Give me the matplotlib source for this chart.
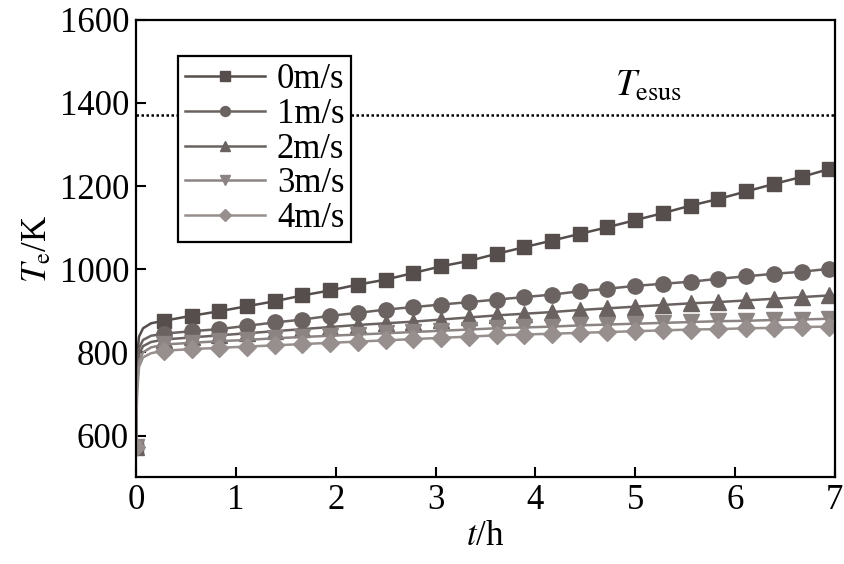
import numpy as np
import matplotlib
matplotlib.use("Agg")
import matplotlib.pyplot as plt

plt.rcParams['font.family'] = ['Liberation Serif', 'DejaVu Serif']
plt.rcParams['mathtext.fontset'] = 'stix'

# early (dense) part of the curves, hours
t_early = [0.0, 0.01, 0.03, 0.07, 0.15]
# marker points every 1000 s, k = 1..25, plus the end at 7 h
k = np.arange(1, 26)
t_marks = list(k * 1000 / 3600)

labels = ['0m/s', '1m/s', '2m/s', '3m/s', '4m/s']

early_0 = [572, 790, 838, 858, 870]
early_1 = [572, 760, 810, 830, 840]
early_2 = [572, 740, 795, 815, 825]
early_3 = [572, 720, 780, 800, 812]
early_4 = [572, 700, 765, 788, 798]

marks_0 = [876, 888, 899, 911, 923, 937, 949, 963, 975, 991, 1007, 1020, 1037,
           1053, 1069, 1085, 1101, 1118, 1135, 1153, 1169, 1187, 1205, 1222, 1241]
marks_1 = [845, 851, 856, 864, 872, 879, 888, 895, 903, 909, 915, 921, 927,
           933, 939, 947, 953, 960, 965, 970, 977, 983, 989, 994, 1001]
marks_2 = [831, 836, 841, 846, 851, 856, 861, 866, 870, 874, 879, 884, 889,
           893, 897, 902, 906, 910, 914, 918, 921, 925, 929, 933, 937]
marks_3 = [819, 823, 827, 830, 834, 837, 840, 843, 846, 849, 852, 855, 858,
           860, 862, 865, 867, 869, 871, 873, 875, 876, 878, 879, 881]
marks_4 = [804, 808, 811, 814, 817, 820, 823, 826, 829, 832, 835, 838, 841,
           843, 845, 847, 849, 851, 853, 855, 856, 858, 859, 861, 862]
end_vals = [1245, 1003, 938, 882, 863]

T_esus = 1370

series = [(early_0, marks_0), (early_1, marks_1), (early_2, marks_2),
          (early_3, marks_3), (early_4, marks_4)]
markers = ['s', 'o', '^', 'v', 'D']
colors = ['#554e4c', '#6a6361', '#6a6260', '#8b8482', '#978f8d']
msizes = [10, 11, 11, 11, 9]

fig = plt.figure(figsize=(8.45, 5.64), dpi=100)
ax = fig.add_axes([0.161, 0.154, 0.827, 0.811])

ax.axhline(T_esus, color='black', linestyle=(0, (1.0, 1.0)), linewidth=1.8)
ax.text(4.8, 1398, r'$T_{\mathrm{esus}}$', fontsize=27, ha='left', va='bottom')

for i in range(5):
    e, m = series[i]
    t = t_early + t_marks + [7.0]
    y = e + m + [end_vals[i]]
    mark_idx = [0] + list(range(len(t_early), len(t_early) + len(t_marks)))
    ax.plot(t, y, color=colors[i], linewidth=1.8, marker=markers[i],
            markersize=msizes[i], markevery=mark_idx, label=labels[i])

ax.set_xlim(0, 7)
ax.set_ylim(500, 1600)
ax.set_xticks(range(0, 8))
ax.set_yticks(range(600, 1601, 200))
ax.tick_params(direction='in', length=7, width=1.5, labelsize=25, pad=5)
for s in ax.spines.values():
    s.set_linewidth(1.6)

ax.set_xlabel(r'$t$/h', fontsize=25, labelpad=2)
ax.set_ylabel(r'$T_{\mathrm{e}}$/K', fontsize=25, labelpad=4)

leg = ax.legend(loc='upper left', bbox_to_anchor=(0.06, 0.92), borderaxespad=0,
                fontsize=25, markerscale=0.65, handlelength=2.3, labelspacing=0.05,
                handletextpad=0.35, borderpad=0.2, fancybox=False, framealpha=1)
leg.get_frame().set_edgecolor('black')
leg.get_frame().set_linewidth(1.6)

fig.savefig('out.png', dpi=100)
